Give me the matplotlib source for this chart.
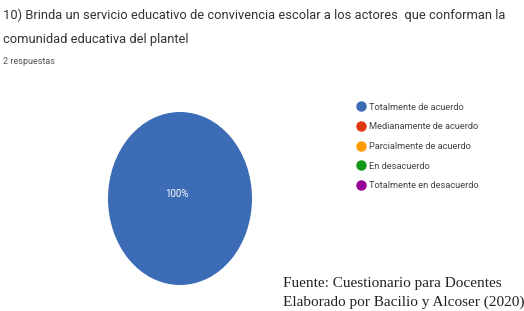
import matplotlib.pyplot as plt
from matplotlib.lines import Line2D

# ---------------------------- Data ---------------------------- #
title_lines = ["10) Brinda un servicio educativo de convivencia escolar a los actores  que conforman la",
               "comunidad educativa del plantel"]
n_responses = "2 respuestas"
labels = ["Totalmente de acuerdo", "Medianamente de acuerdo", "Parcialmente de acuerdo",
          "En desacuerdo", "Totalmente en desacuerdo"]
counts = [2, 0, 0, 0, 0]
colors = ["#3c6cb5", "#dc3912", "#ff9900", "#109618", "#990099"]
source_lines = ["Fuente: Cuestionario para Docentes",
                "Elaborado por Bacilio y Alcoser (2020)"]

W, H = 524, 311
fig = plt.figure(figsize=(W / 100, H / 100), dpi=100)
fig.patch.set_facecolor("white")

# pie axes placed so the (stretched) pie fills it
ax = fig.add_axes([108 / W, 1 - 285 / H, 144 / W, 173 / H])
wedges, texts, autotexts = ax.pie(counts, colors=colors, startangle=90, counterclock=False,
                                  autopct=lambda p: "100%" if p > 99.5 else ("" if p == 0 else "%.1f%%" % p),
                                  pctdistance=0.0, radius=1.0,
                                  textprops={"color": "white", "fontsize": 7, "family": "Roboto"})
for t in autotexts:
    t.set_position((-0.04, 0.05))
ax.set_aspect("auto")
ax.set_xlim(-1, 1)
ax.set_ylim(-1, 1)

# title text
fig.text(3 / W, 1 - 15 / H, title_lines[0], fontsize=9.3, family="Roboto", color="#333333", va="center")
fig.text(3 / W, 1 - 40 / H, title_lines[1], fontsize=9.3, family="Roboto", color="#333333", va="center")
fig.text(3 / W, 1 - 61 / H, n_responses, fontsize=6.5, family="Roboto", color="#555555", va="center")

# legend
handles = [Line2D([], [], marker="o", linestyle="none", markersize=6.5, markerfacecolor=c,
                  markeredgecolor=c) for c in colors]
leg = fig.legend(handles, labels, loc="upper left", bbox_to_anchor=(352 / W, 1 - 98 / H),
                 frameon=False, labelspacing=1.15, handletextpad=0.35,
                 handlelength=1.0, borderpad=0, prop={"family": "Roboto", "size": 6.7})
for t in leg.get_texts():
    t.set_color("#444444")

# source note
fig.text(283 / W, 1 - 283 / H, source_lines[0], fontsize=11, family="Liberation Serif",
         color="#222222", va="center")
fig.text(283 / W, 1 - 302 / H, source_lines[1], fontsize=11, family="Liberation Serif",
         color="#222222", va="center")

fig.savefig("out.png", dpi=100)
